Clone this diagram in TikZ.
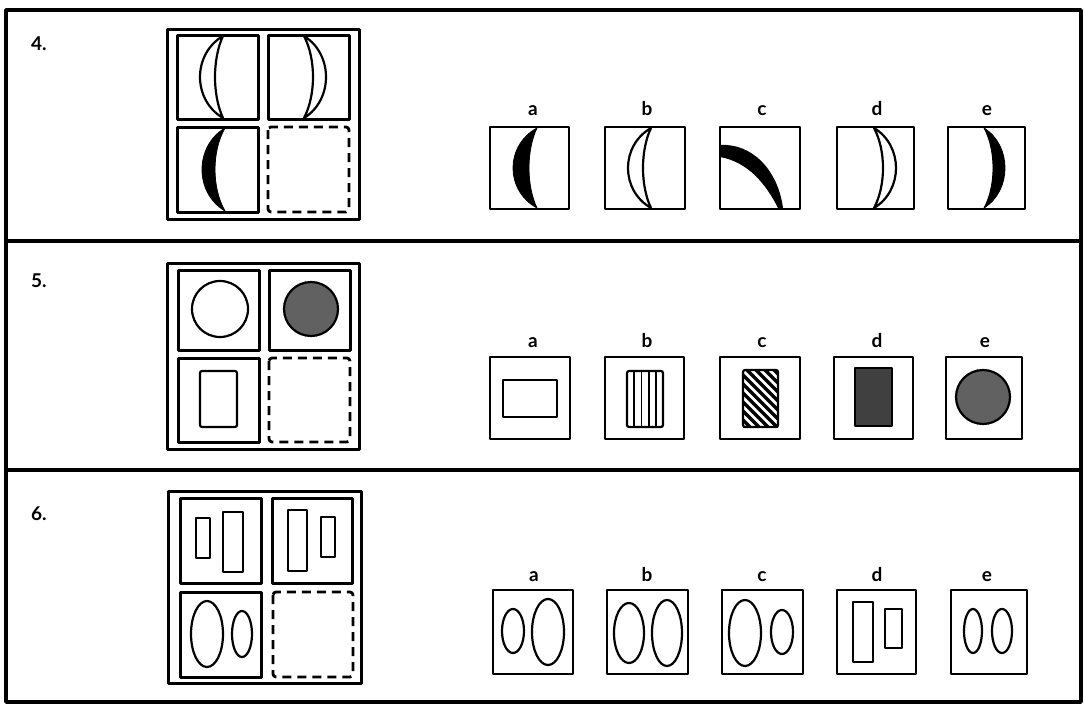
\documentclass[tikz,border=0pt]{standalone}
\usepackage{fontspec}
\newfontfamily\labfont{Lato}
\newcommand\mycres[6]{% style, x, y1, y2, outer bulge, inner bulge
 \draw[#1] (#2,#3) .. controls ({#2+4*(#5)/3},{#3+(#4-#3)*0.22}) and ({#2+4*(#5)/3},{#4-(#4-#3)*0.22}) .. (#2,#4)
   .. controls ({#2+4*(#6)/3},{#4-(#4-#3)*0.28}) and ({#2+4*(#6)/3},{#3+(#4-#3)*0.28}) .. cycle;}
\begin{document}
\begin{tikzpicture}[x=1pt,y=-1pt,
  cell/.style={line width=3pt},
  opt/.style={line width=2.6pt},
  shp/.style={line width=2.2pt},
  dcell/.style={line width=2.8pt, dash pattern=on 9pt off 6pt, rounded corners=3pt},
  lab/.style={font=\labfont\bfseries\fontsize{19}{19}\selectfont, inner sep=0pt, anchor=base},
  num/.style={font=\labfont\bfseries\fontsize{19}{19}\selectfont, inner sep=0pt, anchor=base west},
  fg/.style={fill=black!62},
  fgd/.style={fill=black!75},
  line join=round]
\useasboundingbox (0,0) rectangle (1085,704);
% frame
\draw[line width=3.5pt] (6,10) rectangle (1081,702);
\draw[line width=3.5pt] (6,241) -- (1081,241);
\draw[line width=3.5pt] (6,470) -- (1081,470);

% ---------- Row 4 ----------
\node[num] (n4) at (31,50) {4.};
\draw[cell] (167,29) rectangle (359,219);
\draw[cell] (177,35) rectangle (258,119);
\draw[cell] (268,35) rectangle (349,119);
\draw[cell] (177,127) rectangle (258,212);
\draw[dcell] (268,127) rectangle (349,212);
\mycres{shp}{223}{36}{118}{-23}{-8}
\mycres{shp}{304}{36}{118}{22}{9}
\mycres{fill=black,line width=0.8pt}{225}{128}{211}{-23}{-10}

\foreach \x/\l in {533/a,647/b,762/c,877/d,987/e}{
  \node[lab] (l4\l) at (\x,115) {\l};}
\draw[opt] (490,127) rectangle (569,209);
\draw[opt] (605,127) rectangle (685,209);
\draw[opt] (720,127) rectangle (800,209);
\draw[opt] (837,127) rectangle (914,209);
\draw[opt] (948,127) rectangle (1025,209);
\mycres{fill=black,line width=0.8pt}{537}{128}{208}{-24}{-8}
\mycres{shp}{651}{128}{208}{-23}{-8}
\fill (720,145) .. controls (752,143) and (778,170) .. (783,208)
  -- (778,208) .. controls (766,184) and (748,162) .. (720,157) -- cycle;
\mycres{shp}{874}{128}{208}{22}{9}
\mycres{fill=black,line width=0.8pt}{984}{128}{208}{21}{9}

% ---------- Row 5 ----------
\node[num] (n5) at (31,287) {5.};
\draw[cell] (167,263) rectangle (359,449);
\draw[cell] (178,270) rectangle (259,350);
\draw[cell] (269,270) rectangle (350,350);
\draw[cell] (178,358) rectangle (259,442);
\draw[dcell] (269,358) rectangle (350,442);
\draw[shp] (220,309) circle[radius=28];
\draw[shp,fg] (311,309) circle[radius=27];
\draw[shp,rounded corners=2pt] (200,371) rectangle (237,427);

\foreach \x/\l in {533/a,647/b,762/c,877/d,985/e}{
  \node[lab] (l5\l) at (\x,347) {\l};}
\draw[opt] (490,357) rectangle (570,439);
\draw[opt] (605,357) rectangle (684,439);
\draw[opt] (720,357) rectangle (800,439);
\draw[opt] (834,357) rectangle (913,439);
\draw[opt] (946,357) rectangle (1022,439);
\draw[shp] (503,380) rectangle (557,417);
\draw[shp,rounded corners=2pt] (627,371) rectangle (663,427);
\foreach \x in {634.2,641.4,648.6,655.8} \draw[line width=1.8pt] (\x,371) -- (\x,427);
\begin{scope}
  \clip (743,370) rectangle (778,427);
  \foreach \x in {680,689,...,790} \draw[line width=3.5pt] (\x,366) -- (\x+64,430);
\end{scope}
\draw[shp,rounded corners=2pt] (743,370) rectangle (778,427);
\draw[shp,fgd] (855,368) rectangle (892,426);
\draw[shp,fg] (983,397) circle[radius=27];

% ---------- Row 6 ----------
\node[num] (n6) at (31,520) {6.};
\draw[cell] (168,491) rectangle (361,683);
\draw[cell] (180,498) rectangle (261,583);
\draw[cell] (272,498) rectangle (352,583);
\draw[cell] (180,592) rectangle (261,677);
\draw[dcell] (273,592) rectangle (353,677);
\draw[shp] (196,518) rectangle (210,558);
\draw[shp] (223,512) rectangle (243,572);
\draw[shp] (288,510) rectangle (307,571);
\draw[shp] (321,517) rectangle (335,557);
\draw[shp] (207,634) ellipse[x radius=16,y radius=33];
\draw[shp] (242,634) ellipse[x radius=10,y radius=23];

\foreach \x/\l in {534/a,647/b,762/c,877/d,987/e}{
  \node[lab] (l6\l) at (\x,581) {\l};}
\draw[opt] (493,590) rectangle (573,674);
\draw[opt] (607,590) rectangle (688,674);
\draw[opt] (722,590) rectangle (803,674);
\draw[opt] (837,590) rectangle (916,674);
\draw[opt] (951,590) rectangle (1027,674);
\draw[shp] (513,631) ellipse[x radius=11,y radius=22];
\draw[shp] (548,632) ellipse[x radius=16,y radius=33];
\draw[shp] (629,633) ellipse[x radius=15,y radius=30];
\draw[shp] (667,633) ellipse[x radius=15,y radius=33];
\draw[shp] (745,633) ellipse[x radius=16,y radius=33];
\draw[shp] (782,632) ellipse[x radius=11,y radius=22];
\draw[shp] (853,602) rectangle (873,662);
\draw[shp] (885,609) rectangle (902,648);
\draw[shp] (973,631) ellipse[x radius=9,y radius=22];
\draw[shp] (1002,631) ellipse[x radius=10,y radius=22];
\end{tikzpicture}
\end{document}
